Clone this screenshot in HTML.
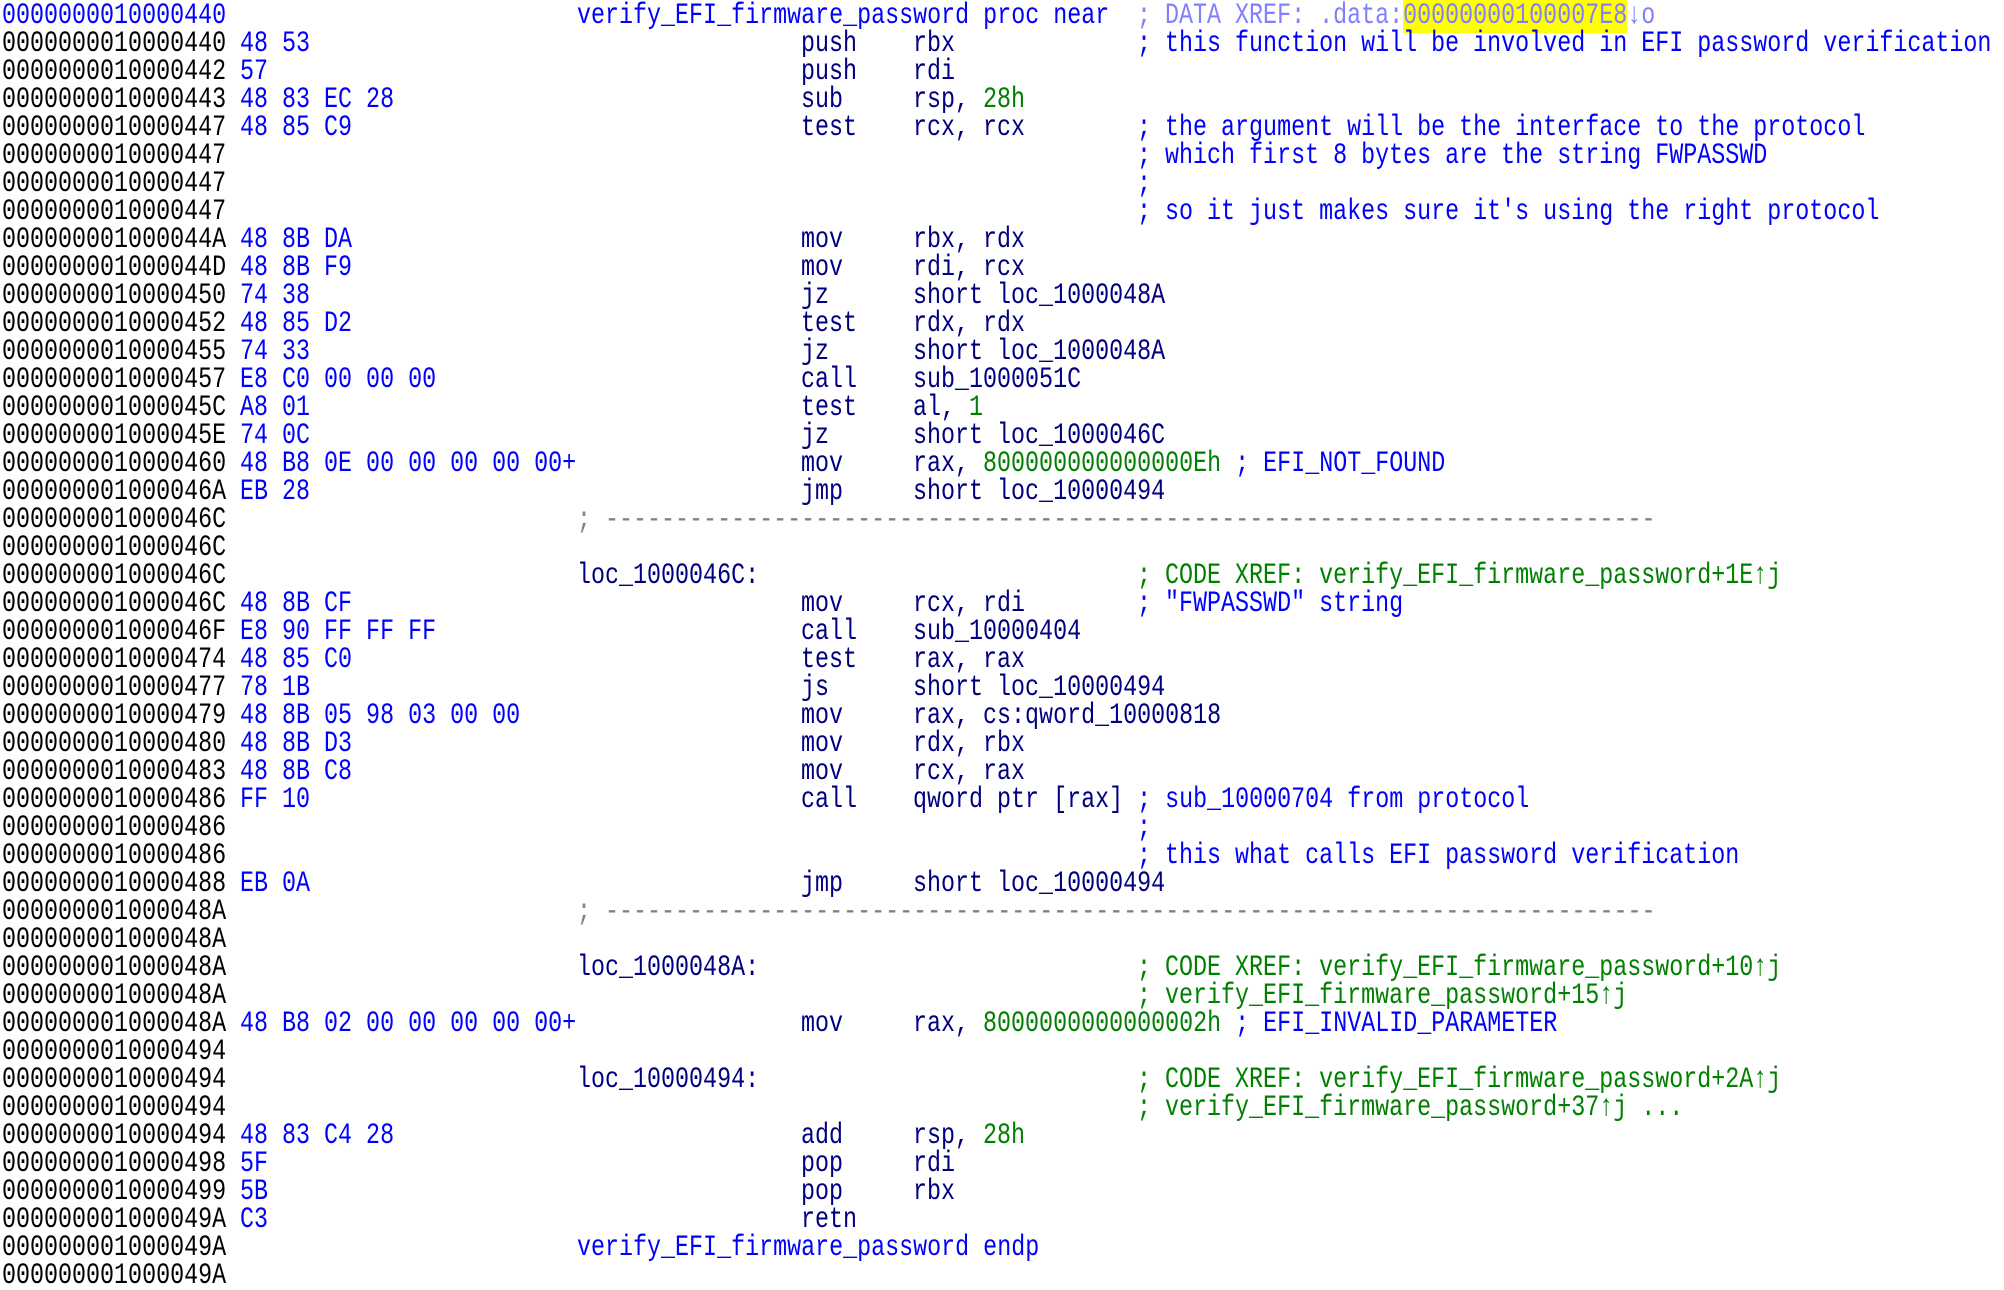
<!DOCTYPE html>
<html><head><meta charset="utf-8"><style>
html,body{margin:0;padding:0;background:#fff;width:2004px;height:1290px;overflow:hidden;position:relative}
.r{position:absolute;left:0;height:28px;width:2004px}
.r span.s{position:absolute;top:0;white-space:pre;font-family:"Liberation Mono",monospace;font-size:30px;line-height:28px;transform:scaleX(0.778);transform-origin:0 50%}
.a{left:2px;color:#000}
.ab{left:2px;color:#0000ff}
.b{left:240px;color:#0000ff}
.l{left:577px;color:#000080}
.p{left:577px;color:#0000ff}
.m{left:801px;color:#000080}
.o{left:913px;color:#000080}
.c{left:1137px;color:#0000ff}
.g{color:#008000}
.cb{color:#0000ff}
.sep{left:577px;color:#808080}
.x{color:#8080ff}
.hl{background:#ffff00}
</style></head><body>
<div class="r" style="top:2px"><span class="s ab">0000000010000440</span><span class="s p">verify_EFI_firmware_password proc near</span><span class="s c x">; DATA XREF: .data:<span class="hl">00000000100007E8</span>↓o</span></div>
<div class="r" style="top:30px"><span class="s a">0000000010000440</span><span class="s b">48 53</span><span class="s m">push</span><span class="s o">rbx</span><span class="s c">; this function will be involved in EFI password verification</span></div>
<div class="r" style="top:58px"><span class="s a">0000000010000442</span><span class="s b">57</span><span class="s m">push</span><span class="s o">rdi</span></div>
<div class="r" style="top:86px"><span class="s a">0000000010000443</span><span class="s b">48 83 EC 28</span><span class="s m">sub</span><span class="s o">rsp, <span class="g">28h</span></span></div>
<div class="r" style="top:114px"><span class="s a">0000000010000447</span><span class="s b">48 85 C9</span><span class="s m">test</span><span class="s o">rcx, rcx</span><span class="s c">; the argument will be the interface to the protocol</span></div>
<div class="r" style="top:142px"><span class="s a">0000000010000447</span><span class="s c">; which first 8 bytes are the string FWPASSWD</span></div>
<div class="r" style="top:170px"><span class="s a">0000000010000447</span><span class="s c">;</span></div>
<div class="r" style="top:198px"><span class="s a">0000000010000447</span><span class="s c">; so it just makes sure it's using the right protocol</span></div>
<div class="r" style="top:226px"><span class="s a">000000001000044A</span><span class="s b">48 8B DA</span><span class="s m">mov</span><span class="s o">rbx, rdx</span></div>
<div class="r" style="top:254px"><span class="s a">000000001000044D</span><span class="s b">48 8B F9</span><span class="s m">mov</span><span class="s o">rdi, rcx</span></div>
<div class="r" style="top:282px"><span class="s a">0000000010000450</span><span class="s b">74 38</span><span class="s m">jz</span><span class="s o">short loc_1000048A</span></div>
<div class="r" style="top:310px"><span class="s a">0000000010000452</span><span class="s b">48 85 D2</span><span class="s m">test</span><span class="s o">rdx, rdx</span></div>
<div class="r" style="top:338px"><span class="s a">0000000010000455</span><span class="s b">74 33</span><span class="s m">jz</span><span class="s o">short loc_1000048A</span></div>
<div class="r" style="top:366px"><span class="s a">0000000010000457</span><span class="s b">E8 C0 00 00 00</span><span class="s m">call</span><span class="s o">sub_1000051C</span></div>
<div class="r" style="top:394px"><span class="s a">000000001000045C</span><span class="s b">A8 01</span><span class="s m">test</span><span class="s o">al, <span class="g">1</span></span></div>
<div class="r" style="top:422px"><span class="s a">000000001000045E</span><span class="s b">74 0C</span><span class="s m">jz</span><span class="s o">short loc_1000046C</span></div>
<div class="r" style="top:450px"><span class="s a">0000000010000460</span><span class="s b">48 B8 0E 00 00 00 00 00+</span><span class="s m">mov</span><span class="s o">rax, <span class="g">800000000000000Eh</span> <span class="cb">; EFI_NOT_FOUND</span></span></div>
<div class="r" style="top:478px"><span class="s a">000000001000046A</span><span class="s b">EB 28</span><span class="s m">jmp</span><span class="s o">short loc_10000494</span></div>
<div class="r" style="top:506px"><span class="s a">000000001000046C</span><span class="s sep">; ---------------------------------------------------------------------------</span></div>
<div class="r" style="top:534px"><span class="s a">000000001000046C</span></div>
<div class="r" style="top:562px"><span class="s a">000000001000046C</span><span class="s l">loc_1000046C:</span><span class="s c g">; CODE XREF: verify_EFI_firmware_password+1E↑j</span></div>
<div class="r" style="top:590px"><span class="s a">000000001000046C</span><span class="s b">48 8B CF</span><span class="s m">mov</span><span class="s o">rcx, rdi</span><span class="s c">; "FWPASSWD" string</span></div>
<div class="r" style="top:618px"><span class="s a">000000001000046F</span><span class="s b">E8 90 FF FF FF</span><span class="s m">call</span><span class="s o">sub_10000404</span></div>
<div class="r" style="top:646px"><span class="s a">0000000010000474</span><span class="s b">48 85 C0</span><span class="s m">test</span><span class="s o">rax, rax</span></div>
<div class="r" style="top:674px"><span class="s a">0000000010000477</span><span class="s b">78 1B</span><span class="s m">js</span><span class="s o">short loc_10000494</span></div>
<div class="r" style="top:702px"><span class="s a">0000000010000479</span><span class="s b">48 8B 05 98 03 00 00</span><span class="s m">mov</span><span class="s o">rax, cs:qword_10000818</span></div>
<div class="r" style="top:730px"><span class="s a">0000000010000480</span><span class="s b">48 8B D3</span><span class="s m">mov</span><span class="s o">rdx, rbx</span></div>
<div class="r" style="top:758px"><span class="s a">0000000010000483</span><span class="s b">48 8B C8</span><span class="s m">mov</span><span class="s o">rcx, rax</span></div>
<div class="r" style="top:786px"><span class="s a">0000000010000486</span><span class="s b">FF 10</span><span class="s m">call</span><span class="s o">qword ptr [rax] <span class="cb">; sub_10000704 from protocol</span></span></div>
<div class="r" style="top:814px"><span class="s a">0000000010000486</span><span class="s c">;</span></div>
<div class="r" style="top:842px"><span class="s a">0000000010000486</span><span class="s c">; this what calls EFI password verification</span></div>
<div class="r" style="top:870px"><span class="s a">0000000010000488</span><span class="s b">EB 0A</span><span class="s m">jmp</span><span class="s o">short loc_10000494</span></div>
<div class="r" style="top:898px"><span class="s a">000000001000048A</span><span class="s sep">; ---------------------------------------------------------------------------</span></div>
<div class="r" style="top:926px"><span class="s a">000000001000048A</span></div>
<div class="r" style="top:954px"><span class="s a">000000001000048A</span><span class="s l">loc_1000048A:</span><span class="s c g">; CODE XREF: verify_EFI_firmware_password+10↑j</span></div>
<div class="r" style="top:982px"><span class="s a">000000001000048A</span><span class="s c g">; verify_EFI_firmware_password+15↑j</span></div>
<div class="r" style="top:1010px"><span class="s a">000000001000048A</span><span class="s b">48 B8 02 00 00 00 00 00+</span><span class="s m">mov</span><span class="s o">rax, <span class="g">8000000000000002h</span> <span class="cb">; EFI_INVALID_PARAMETER</span></span></div>
<div class="r" style="top:1038px"><span class="s a">0000000010000494</span></div>
<div class="r" style="top:1066px"><span class="s a">0000000010000494</span><span class="s l">loc_10000494:</span><span class="s c g">; CODE XREF: verify_EFI_firmware_password+2A↑j</span></div>
<div class="r" style="top:1094px"><span class="s a">0000000010000494</span><span class="s c g">; verify_EFI_firmware_password+37↑j ...</span></div>
<div class="r" style="top:1122px"><span class="s a">0000000010000494</span><span class="s b">48 83 C4 28</span><span class="s m">add</span><span class="s o">rsp, <span class="g">28h</span></span></div>
<div class="r" style="top:1150px"><span class="s a">0000000010000498</span><span class="s b">5F</span><span class="s m">pop</span><span class="s o">rdi</span></div>
<div class="r" style="top:1178px"><span class="s a">0000000010000499</span><span class="s b">5B</span><span class="s m">pop</span><span class="s o">rbx</span></div>
<div class="r" style="top:1206px"><span class="s a">000000001000049A</span><span class="s b">C3</span><span class="s m">retn</span></div>
<div class="r" style="top:1234px"><span class="s a">000000001000049A</span><span class="s p">verify_EFI_firmware_password endp</span></div>
<div class="r" style="top:1262px"><span class="s a">000000001000049A</span></div>
</body></html>
